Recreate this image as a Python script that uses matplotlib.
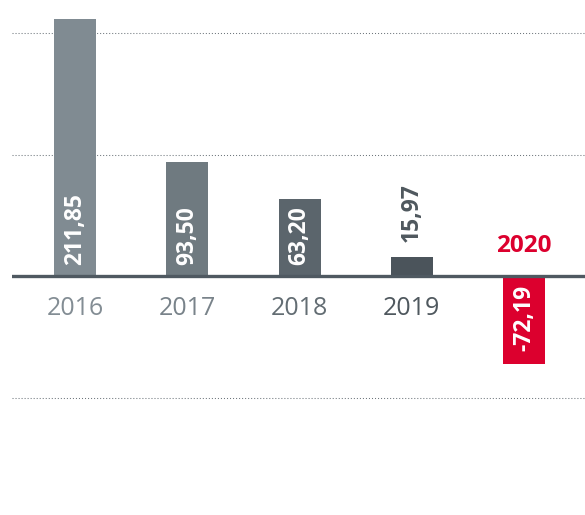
import matplotlib.pyplot as plt
import numpy as np

years  = ["2016", "2017", "2018", "2019", "2020"]
values = [211.85, 93.50, 63.20, 15.97, -72.19]
bar_colors  = ["#808b92", "#6f7a80", "#5b656c", "#4b545b", "#dc002e"]
year_colors = ["#838d94", "#79838a", "#636d73", "#4f585e", "#dc002e"]
grid_levels = [200, 100, -100]

def fmt(v):
    return ("%.2f" % v).replace(".", ",")

fig = plt.figure(figsize=(5.85, 5.15), dpi=100)
ax = fig.add_axes([12 / 585, 0, 573 / 585, 1])
ax.axis("off")

x = np.arange(len(years))
ax.set_xlim(-0.561, 4.543)
ax.set_ylim(-196.7, 227.2)

for g in grid_levels:
    ax.axhline(g, color="#6f777d", lw=0.75, linestyle=(0, (1, 1.9)), zorder=0)

ax.bar(x, values, width=0.374, color=bar_colors, zorder=2)
ax.axhline(0, color="#4f5961", lw=2.4, zorder=3)

lbl = dict(rotation=90, ha="center", fontsize=16.5, fontweight="bold",
           family="Open Sans", zorder=4)
for xi, v, yr, yc in zip(x, values, years, year_colors):
    if v < 0:
        ax.text(xi, -7.4, fmt(v), va="top", color="white", **lbl)
        ax.text(xi, 24.8, yr, ha="center", va="center", color=yc,
                fontsize=17.5, fontweight="bold", family="Open Sans")
    else:
        if v > 40:
            ax.text(xi, 9, fmt(v), va="bottom", color="white", **lbl)
        else:
            ax.text(xi, v + 12, fmt(v), va="bottom", color="#4f585e", **lbl)
        ax.text(xi, -26.4, yr, ha="center", va="center", color=yc,
                fontsize=18, family="Open Sans")

fig.savefig("out.png", dpi=100)
